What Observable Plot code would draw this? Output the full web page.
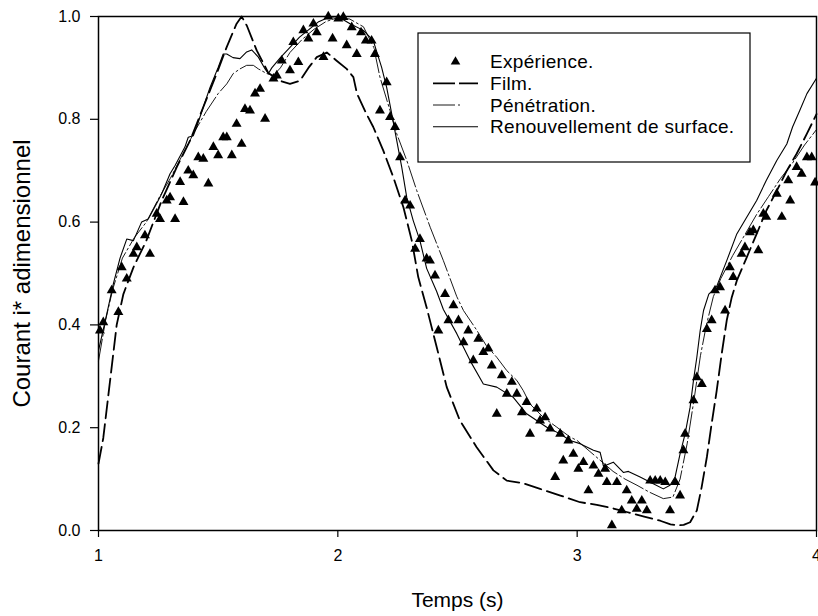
<!DOCTYPE html>
<html>
<head>
<meta charset="utf-8">
<script src="https://cdn.jsdelivr.net/npm/d3@7"></script>
<script src="https://cdn.jsdelivr.net/npm/@observablehq/plot@0.6"></script>
<style>
  html, body { margin: 0; padding: 0; background: #fff; }
  #chart { width: 818px; height: 616px; }
</style>
</head>
<body>
<div id="chart"></div>
<script>
// ---- Data ----
const xTicks = [1, 2, 3, 4];
const yTicks = [0, 0.2, 0.4, 0.6, 0.8, 1.0];
const xLabel = "Temps (s)";
const yLabel = "Courant i* adimensionnel";
const seriesNames = ["Expérience.", "Film.", "Pénétration.", "Renouvellement de surface."];

// Expérience (triangles)
const expX = [1.006,1.02,1.055,1.083,1.097,1.118,1.146,1.16,1.194,1.215,1.243,1.257,1.285,1.299,1.32,1.341,1.355,1.375,1.396,1.417,1.438,1.459,1.48,1.50,1.521,1.536,1.557,1.577,1.598,1.612,1.633,1.654,1.675,1.696,1.731,1.745,1.766,1.80,1.835,1.814,1.856,1.877,1.898,1.912,1.94,1.96,1.978,2.002,2.023,2.037,2.058,2.079,2.097,2.117,2.141,2.155,2.176,2.204,2.218,2.239,2.26,2.281,2.302,2.343,2.323,2.371,2.385,2.406,2.448,2.483,2.462,2.504,2.42,2.545,2.525,2.587,2.629,2.608,2.566,2.643,2.685,2.727,2.706,2.748,2.664,2.789,2.769,2.831,2.866,2.845,2.887,2.929,2.803,2.963,2.984,2.942,3.026,3.005,3.068,2.908,3.089,3.124,3.047,3.117,3.166,3.207,3.228,3.27,3.186,3.249,3.291,3.145,3.305,3.326,3.347,3.368,3.41,3.43,3.388,3.451,3.444,3.486,3.50,3.521,3.542,3.562,3.576,3.597,3.618,3.652,3.638,3.687,3.701,3.757,3.722,3.736,3.79,3.778,3.855,3.834,3.89,3.882,3.917,3.938,3.96,3.98,3.994];
const expY = [0.389,0.405,0.467,0.425,0.512,0.49,0.538,0.551,0.574,0.538,0.616,0.606,0.642,0.648,0.606,0.678,0.639,0.70,0.691,0.726,0.723,0.675,0.746,0.73,0.765,0.765,0.73,0.791,0.752,0.82,0.817,0.85,0.859,0.801,0.879,0.885,0.914,0.895,0.911,0.95,0.973,0.957,0.986,0.969,0.921,1.0,0.957,0.996,0.999,0.944,0.979,0.927,0.969,0.953,0.953,0.927,0.817,0.872,0.804,0.785,0.726,0.642,0.632,0.567,0.548,0.529,0.525,0.496,0.46,0.438,0.409,0.409,0.389,0.389,0.366,0.373,0.354,0.347,0.331,0.321,0.302,0.289,0.266,0.266,0.227,0.25,0.23,0.237,0.22,0.214,0.198,0.188,0.188,0.175,0.149,0.136,0.133,0.12,0.126,0.104,0.11,0.094,0.078,0.12,0.094,0.078,0.058,0.058,0.039,0.042,0.039,0.01,0.097,0.097,0.097,0.094,0.094,0.068,0.039,0.188,0.156,0.253,0.298,0.285,0.392,0.409,0.467,0.473,0.428,0.493,0.512,0.538,0.551,0.545,0.58,0.584,0.61,0.616,0.61,0.655,0.642,0.681,0.707,0.694,0.726,0.726,0.677];

// Film (dashed)
const filmX = [1.0,1.02,1.048,1.076,1.104,1.146,1.2,1.264,1.327,1.383,1.438,1.494,1.536,1.577,1.598,1.62,1.661,1.71,1.758,1.80,1.842,1.877,1.912,1.954,1.995,2.037,2.065,2.08,2.12,2.148,2.19,2.232,2.274,2.309,2.336,2.371,2.413,2.455,2.51,2.58,2.65,2.706,2.775,2.845,2.93,3.012,3.082,3.15,3.207,3.28,3.347,3.39,3.416,3.445,3.472,3.50,3.52,3.542,3.562,3.583,3.604,3.625,3.646,3.667,3.709,3.75,3.79,3.834,3.876,3.917,3.96,4.0];
const filmY = [0.13,0.18,0.29,0.40,0.46,0.512,0.564,0.642,0.707,0.759,0.824,0.889,0.941,0.986,1.0,0.982,0.934,0.89,0.875,0.869,0.875,0.90,0.921,0.93,0.914,0.898,0.882,0.85,0.81,0.785,0.739,0.687,0.629,0.564,0.493,0.434,0.357,0.279,0.214,0.162,0.117,0.097,0.092,0.081,0.068,0.055,0.05,0.043,0.036,0.027,0.019,0.012,0.01,0.011,0.016,0.039,0.084,0.143,0.208,0.272,0.344,0.409,0.454,0.486,0.532,0.577,0.622,0.661,0.70,0.733,0.772,0.81];

// Pénétration (thin dash-dot)
const penX = [1.0,1.03,1.06,1.1,1.15,1.2,1.25,1.3,1.35,1.4,1.45,1.5,1.536,1.563,1.591,1.619,1.647,1.668,1.703,1.73,1.76,1.80,1.85,1.90,1.95,2.0,2.05,2.107,2.15,2.176,2.218,2.246,2.288,2.33,2.386,2.441,2.497,2.525,2.58,2.62,2.664,2.706,2.748,2.775,2.803,2.859,2.915,2.97,3.0,3.05,3.1,3.15,3.2,3.25,3.3,3.36,3.4,3.43,3.46,3.49,3.515,3.54,3.569,3.6,3.65,3.7,3.75,3.8,3.85,3.9,3.95,4.0];
const penY = [0.33,0.41,0.47,0.53,0.57,0.60,0.645,0.685,0.73,0.775,0.815,0.85,0.869,0.889,0.898,0.905,0.905,0.898,0.889,0.885,0.90,0.93,0.955,0.975,0.99,0.998,0.995,0.98,0.94,0.882,0.817,0.772,0.72,0.661,0.59,0.525,0.455,0.428,0.39,0.36,0.337,0.311,0.292,0.272,0.246,0.22,0.201,0.182,0.175,0.155,0.135,0.115,0.1,0.088,0.075,0.062,0.065,0.1,0.17,0.26,0.34,0.40,0.455,0.49,0.535,0.575,0.615,0.65,0.685,0.715,0.75,0.78];

// Renouvellement de surface (solid)
const renX = [1.0,1.034,1.062,1.09,1.118,1.146,1.18,1.208,1.243,1.264,1.299,1.32,1.361,1.375,1.396,1.41,1.438,1.466,1.50,1.521,1.536,1.562,1.591,1.619,1.64,1.668,1.696,1.71,1.724,1.76,1.80,1.84,1.88,1.92,1.96,2.0,2.051,2.107,2.148,2.183,2.204,2.225,2.246,2.267,2.288,2.315,2.343,2.371,2.413,2.441,2.497,2.552,2.608,2.664,2.733,2.789,2.873,2.929,2.97,3.012,3.068,3.096,3.11,3.151,3.193,3.214,3.263,3.318,3.36,3.388,3.409,3.43,3.451,3.472,3.486,3.50,3.514,3.528,3.55,3.583,3.625,3.667,3.709,3.75,3.79,3.834,3.876,3.90,3.93,3.96,4.0];
const renY = [0.35,0.42,0.48,0.53,0.567,0.564,0.60,0.606,0.636,0.655,0.694,0.71,0.746,0.765,0.768,0.785,0.824,0.862,0.901,0.927,0.927,0.92,0.918,0.931,0.935,0.921,0.898,0.889,0.90,0.92,0.94,0.96,0.975,0.99,0.998,1.0,0.986,0.973,0.953,0.901,0.862,0.811,0.759,0.707,0.648,0.603,0.564,0.51,0.465,0.43,0.383,0.331,0.285,0.279,0.259,0.227,0.201,0.188,0.175,0.169,0.156,0.152,0.125,0.133,0.113,0.115,0.104,0.091,0.081,0.088,0.104,0.149,0.188,0.24,0.292,0.337,0.389,0.428,0.46,0.475,0.525,0.577,0.61,0.642,0.681,0.72,0.752,0.785,0.817,0.85,0.88];

// ---- Build tables ----
const zip = (xs, ys) => xs.map((x, i) => ({x, y: ys[i]}));
const expData = zip(expX, expY);
const filmData = zip(filmX, filmY);
const penData = zip(penX, penY);
const renData = zip(renX, renY);

const FONT = "'Liberation Sans', Arial, Helvetica, sans-serif";
const filmDash = "17,6";
const penDash = "22,3,2,3";

const plot = Plot.plot({
  width: 818,
  height: 616,
  marginLeft: 98,
  marginRight: 2,
  marginTop: 16,
  marginBottom: 86,
  style: {fontFamily: FONT, fontSize: "16px", color: "#000", background: "#fff"},
  x: {domain: [1, 4]},
  y: {domain: [0, 1]},
  marks: [
    Plot.axisX({ticks: xTicks, tickSize: 7, tickPadding: 12, tickFormat: d => String(d), label: null, fontSize: 16, strokeWidth: 1.2}),
    Plot.axisY({ticks: yTicks, tickSize: 8, tickPadding: 10, tickFormat: d3.format(".1f"), label: null, fontSize: 16, strokeWidth: 1.2}),
    Plot.line(filmData, {x: "x", y: "y", stroke: "#000", strokeWidth: 1.8, strokeDasharray: filmDash}),
    Plot.line(penData, {x: "x", y: "y", stroke: "#000", strokeWidth: 0.9, strokeDasharray: penDash}),
    Plot.line(renData, {x: "x", y: "y", stroke: "#000", strokeWidth: 1.1}),
    Plot.dot(expData, {x: "x", y: "y", symbol: "triangle", fill: "#000", stroke: "none", r: 3.7}),
    Plot.frame({stroke: "#000", strokeWidth: 1.5}),
    Plot.text([xLabel], {frameAnchor: "bottom", textAnchor: "middle", lineAnchor: "middle", dy: 70, fontSize: 21, fill: "#000"}),
    Plot.text([yLabel], {frameAnchor: "left", textAnchor: "middle", lineAnchor: "middle", dx: -76, rotate: -90, fontSize: 24, fill: "#000"})
  ]
});

document.getElementById("chart").appendChild(plot);

// ---- Legend (inside the SVG, top-right of plot area) ----
const svg = d3.select(plot);
const lg = svg.append("g")
  .attr("font-family", FONT)
  .attr("font-size", 19)
  .attr("text-anchor", "start");
const box = {x: 418, y: 33, w: 332, h: 129};
lg.append("rect").attr("x", box.x).attr("y", box.y).attr("width", box.w).attr("height", box.h)
  .attr("fill", "#fff").attr("stroke", "#000").attr("stroke-width", 1.2);
const rowY = [61.7, 83.3, 105, 126.7];
const symX0 = 433, symX1 = 478, textX = 490;
// triangle
lg.append("path").attr("d", d3.symbol(d3.symbolTriangle, 40)())
  .attr("transform", `translate(${(symX0 + symX1) / 2},${rowY[0]})`).attr("fill", "#000");
// film
lg.append("line").attr("x1", symX0).attr("x2", symX1).attr("y1", rowY[1]).attr("y2", rowY[1])
  .attr("stroke", "#000").attr("stroke-width", 1.8).attr("stroke-dasharray", "22,4");
// penetration
lg.append("line").attr("x1", symX0).attr("x2", symX0 + 27).attr("y1", rowY[2]).attr("y2", rowY[2])
  .attr("stroke", "#000").attr("stroke-width", 0.9).attr("stroke-dasharray", penDash);
// renouvellement
lg.append("line").attr("x1", symX0).attr("x2", symX1).attr("y1", rowY[3]).attr("y2", rowY[3])
  .attr("stroke", "#000").attr("stroke-width", 1.1);
seriesNames.forEach((name, i) => {
  lg.append("text").attr("x", textX).attr("y", rowY[i]).attr("dy", "0.35em")
    .attr("text-anchor", "start")
    .attr("fill", "#000").attr("letter-spacing", "0.3px").text(name);
});
</script>
</body>
</html>
